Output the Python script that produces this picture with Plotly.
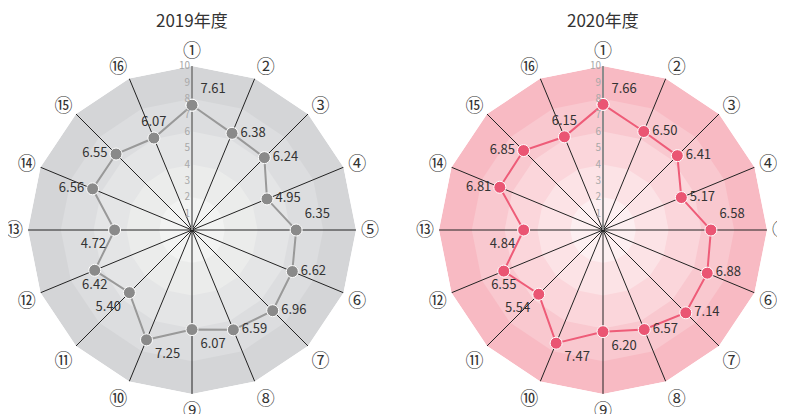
import plotly.graph_objects as go

categories = ["①", "②", "③", "④", "⑤", "⑥", "⑦", "⑧",
              "⑨", "⑩", "⑪", "⑫", "⑬", "⑭", "⑮", "⑯"]
values_2019 = [7.61, 6.38, 6.24, 4.95, 6.35, 6.62, 6.96, 6.59,
               6.07, 7.25, 5.40, 6.42, 4.72, 6.56, 6.55, 6.07]
values_2020 = [7.66, 6.50, 6.41, 5.17, 6.58, 6.88, 7.14, 6.57,
               6.20, 7.47, 5.54, 6.55, 4.84, 6.81, 6.85, 6.15]
titles = ["2019年度", "2020年度"]
band_levels = [10, 8, 6, 4, 2]
radial_ticks = [1, 2, 3, 4, 5, 6, 7, 8, 9, 10]

gray_bands = ["#d4d5d7", "#dcdddf", "#e4e5e6", "#ebeceb", "#f2f3f2"]
pink_bands = ["#f8bac3", "#f9c8cf", "#fbd6db", "#fce3e6", "#fdeff1"]
label_positions = ["top right", "middle right", "middle right", "middle right",
                   "top right", "middle right", "middle right", "middle right",
                   "bottom right", "bottom right", "bottom left", "bottom center",
                   "bottom left", "middle left", "middle left", "top center"]

FONT = "Noto Sans CJK JP, Noto Sans, sans-serif"
OFF = 8
W, H = 785 - OFF, 414 - OFF

fig = go.Figure()

series = [
    ("polar", values_2019, gray_bands, "#999999", "#8a8a8a"),
    ("polar2", values_2020, pink_bands, "#ee5c78", "#ea5573"),
]

closed_theta = categories + [categories[0]]

for subplot, vals, bands, line_col, marker_col in series:
    for lvl, col in zip(band_levels, bands):
        fig.add_trace(go.Scatterpolar(
            r=[lvl] * len(closed_theta), theta=closed_theta,
            mode="lines", fill="toself", fillcolor=col,
            line=dict(width=0, color=col), hoverinfo="skip",
            showlegend=False, subplot=subplot))
    sr, st = [], []
    for c in categories[1:]:
        sr += [0, band_levels[0], None]
        st += [c, c, None]
    fig.add_trace(go.Scatterpolar(
        r=sr, theta=st, mode="lines",
        line=dict(color="#222222", width=1), hoverinfo="skip",
        showlegend=False, subplot=subplot))
    fig.add_trace(go.Scatterpolar(
        r=[0, band_levels[0]], theta=[categories[0], categories[0]], mode="lines",
        line=dict(color="#8c8c8c", width=2), hoverinfo="skip",
        showlegend=False, subplot=subplot))
    fig.add_trace(go.Scatterpolar(
        r=vals + [vals[0]], theta=closed_theta,
        mode="lines+markers+text",
        text=[f"{v:.2f}" for v in vals] + [""],
        textposition=label_positions + ["top right"],
        textfont=dict(family=FONT, size=13, color="#333333"),
        line=dict(color=line_col, width=2),
        marker=dict(size=12, color=marker_col, line=dict(color="white", width=1)),
        showlegend=False, subplot=subplot))

r_px = 164
cy = 230 - OFF
def dom_x(cx):
    cx -= OFF
    return [(cx - r_px) / W, (cx + r_px) / W]
dom_y = [1 - (cy + r_px) / H, 1 - (cy - r_px) / H]

polar_common = dict(
    bgcolor="rgba(0,0,0,0)",
    gridshape="linear",
    radialaxis=dict(range=[0, 10], tickvals=radial_ticks, showgrid=False,
                    showline=False, angle=90, side="counterclockwise",
                    ticks="", layer="above traces", tickangle=90,
                    tickfont=dict(family=FONT, size=10, color="#a8a8a8")),
    angularaxis=dict(direction="clockwise", rotation=90, showgrid=False,
                     showline=False, ticks="outside", ticklen=1,
                     tickcolor="rgba(0,0,0,0)",
                     tickfont=dict(family=FONT, size=18, color="#333333")),
)

fig.update_layout(
    width=W, height=H,
    margin=dict(l=0, r=0, t=0, b=0),
    paper_bgcolor="white",
    font=dict(family=FONT),
    polar=dict(domain=dict(x=dom_x(192), y=dom_y), **polar_common),
    polar2=dict(domain=dict(x=dom_x(603), y=dom_y), **polar_common),
    annotations=[
        dict(text=titles[0], x=(192 - OFF) / W, y=1 - (19 - OFF) / H,
             xref="paper", yref="paper", xanchor="center", yanchor="middle",
             showarrow=False, font=dict(family=FONT, size=17, color="#333333")),
        dict(text=titles[1], x=(603 - OFF) / W, y=1 - (19 - OFF) / H,
             xref="paper", yref="paper", xanchor="center", yanchor="middle",
             showarrow=False, font=dict(family=FONT, size=17, color="#333333")),
    ],
)

fig.write_html("out.html")
